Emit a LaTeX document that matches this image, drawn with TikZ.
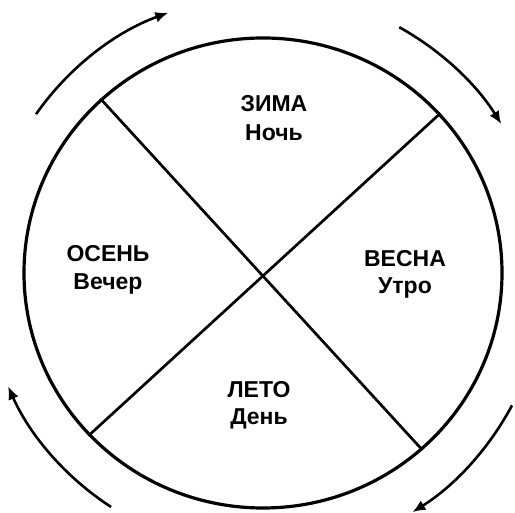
\documentclass[tikz,border=0pt]{standalone}
\usepackage{fontspec}
\setmainfont{Liberation Sans}
\usetikzlibrary{arrows.meta, shapes.geometric}

\begin{document}
\begin{tikzpicture}[x=1pt, y=1pt,
    season/.style={anchor=base, inner sep=0pt, font=\fontsize{23}{28}\selectfont\bfseries},
    turn/.style={line width=2.6pt, -{Latex[length=13pt, width=11pt]}}]
  \useasboundingbox (0,0) rectangle (515,513);
  \coordinate (c) at (263,240);

  % wheel and the two diagonals
  \node[draw, ellipse, line width=3.2pt, minimum width=478pt, minimum height=470pt,
        inner sep=0pt] (wheel) at (c) {};
  \draw[line width=2.7pt] (wheel.133) -- (wheel.312);
  \draw[line width=2.7pt] (wheel.42) -- (wheel.223);

  % seasons and times of day
  \node[season] (winter) at (274,401) {ЗИМА};
  \node[season] (night) at ([yshift=-29pt]winter.base) {Ночь};
  \node[season] (autumn) at (108,251) {ОСЕНЬ};
  \node[season] (evening) at ([yshift=-28pt]autumn.base) {Вечер};
  \node[season] (spring) at (405,246) {ВЕСНА};
  \node[season] (morning) at ([yshift=-27pt]spring.base) {Утро};
  \node[season] (summer) at (259,115) {ЛЕТО};
  \node[season] (day) at ([yshift=-27pt]summer.base) {День};

  % clockwise arrows round the wheel
  \draw[turn] ([shift={(145:277)}]c) arc[start angle=145, end angle=110, radius=277];
  \draw[turn] ([shift={(61:281)}]c) arc[start angle=61, end angle=32, radius=281];
  \draw[turn] ([shift={(-28:282)}]c) arc[start angle=-28, end angle=-58, radius=282];
  \draw[turn] ([shift={(237:279)}]c) arc[start angle=237, end angle=204, radius=279];
\end{tikzpicture}
\end{document}
